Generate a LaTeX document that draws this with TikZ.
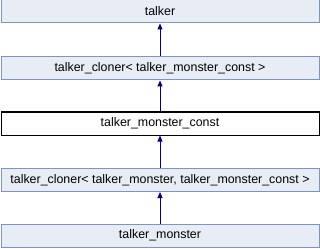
\documentclass[tikz,border=0pt]{standalone}
\usepackage{fontspec}
\setmainfont{Liberation Sans}
\usetikzlibrary{arrows.meta}
\definecolor{boxfill}{HTML}{E8ECF4}
\definecolor{boxedge}{HTML}{7C95C6}
\definecolor{linkcol}{HTML}{000080}
\begin{document}
\begin{tikzpicture}[x=1pt,y=-1pt,
  classbox/.style={draw=boxedge,fill=boxfill,line width=1pt,minimum width=318pt,minimum height=23pt,inner sep=0pt,font=\fontsize{12.4}{14}\selectfont},
  currentbox/.style={classbox,draw=black,fill=white},
  inherit/.style={draw=linkcol,line width=1pt,-{Triangle[length=6pt,width=5pt]}}]
\useasboundingbox (0,0) rectangle (320,248);
\node[classbox]   (talker)  at (160,11.5)  {talker};
\node[classbox]   (clonerA) at (160,68.5)  {talker\_cloner< talker\_monster\_const >};
\node[currentbox] (mconst)  at (160,123.5) {talker\_monster\_const};
\node[classbox]   (clonerB) at (160,180)   {talker\_cloner< talker\_monster, talker\_monster\_const >};
\node[classbox]   (monster) at (160,235.5) {talker\_monster};
\draw[inherit] (clonerA) -- (talker);
\draw[inherit] (mconst) -- (clonerA);
\draw[inherit] (clonerB) -- (mconst);
\draw[inherit] (monster) -- (clonerB);
\end{tikzpicture}
\end{document}
